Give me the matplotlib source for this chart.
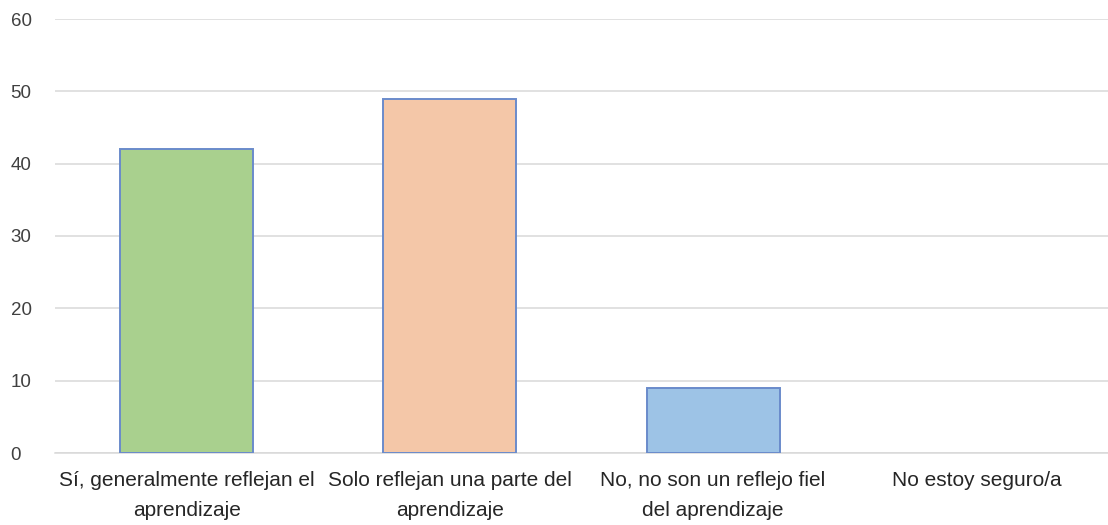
import numpy as np
import matplotlib.pyplot as plt

CATEGORIES = [
    "Sí, generalmente reflejan el\naprendizaje",
    "Solo reflejan una parte del\naprendizaje",
    "No, no son un reflejo fiel\ndel aprendizaje",
    "No estoy seguro/a",
]
VALUES = [42, 49, 9, 0]
COLORS = ["#A9D08E", "#F4C7A8", "#9DC3E6", "#D9D9D9"]
Y_TICKS = [0, 10, 20, 30, 40, 50, 60]

plt.rcParams["font.family"] = ["Liberation Sans", "DejaVu Sans"]

fig = plt.figure(figsize=(11.08, 5.25), dpi=100)
ax = fig.add_axes([55 / 1108, 1 - 453 / 525, 1 - 55 / 1108, (453 - 19) / 525])

x = np.arange(len(CATEGORIES))
heights = np.array(VALUES, dtype=float)
mask = heights > 0
ax.bar(x[mask], heights[mask], width=0.505, color=np.array(COLORS)[mask],
       edgecolor="#6A8BCB", linewidth=1.4, zorder=3)

ax.set_xlim(-0.5, len(CATEGORIES) - 0.5)
ax.set_ylim(0, 60)
ax.set_yticks(Y_TICKS)
ax.set_xticks(x)
ax.set_xticklabels(CATEGORIES, fontsize=15, color="#262626", linespacing=1.75)
ax.tick_params(axis="y", labelsize=13.5, colors="#404040", length=0, pad=32)
ax.tick_params(axis="x", length=0, pad=13)
for lab in ax.get_yticklabels():
    lab.set_horizontalalignment("left")

ax.grid(axis="y", color="#D9D9D9", linewidth=1.1, zorder=0)
for side in ["top", "right", "left"]:
    ax.spines[side].set_visible(False)
ax.spines["bottom"].set_color("#D9D9D9")
ax.spines["bottom"].set_linewidth(1.1)

fig.savefig("out.png", dpi=100)
